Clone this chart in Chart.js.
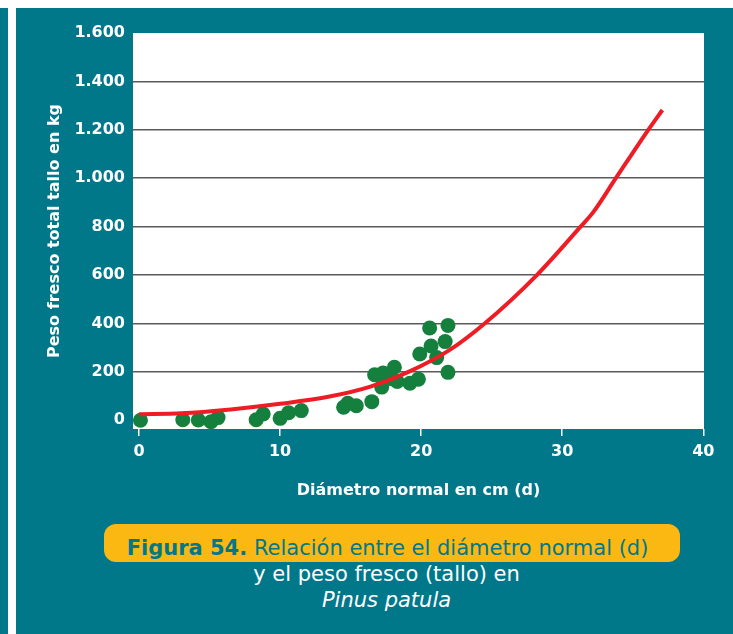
<!DOCTYPE html>
<html>
<head>
<meta charset="utf-8">
<script src="https://cdn.jsdelivr.net/npm/chart.js@4.4.1/dist/chart.umd.min.js"></script>
<style>
  html, body { margin: 0; padding: 0; background: #ffffff; }
  body { width: 733px; height: 634px; position: relative; overflow: hidden; font-family: "DejaVu Sans", sans-serif; }
  #stripe { position: absolute; left: 0; top: 8px; width: 8px; height: 626px; background: #00788a; }
  #panel { position: absolute; left: 16px; top: 8px; width: 717px; height: 626px; background: #00788a; }
  #wrap { position: absolute; left: 0; top: 0; width: 733px; height: 520px; }
  #cap { position: absolute; left: 104px; top: 524px; width: 576px; height: 38px; background: #fbb813; border-radius: 12px; }
  .l1 { position: absolute; left: 0; width: 775px; top: 535px; text-align: center; color: #00788a; font-size: 21px; line-height: 26px; }
  .l1 b { font-weight: bold; }
  .l2 { position: absolute; left: 0; width: 773px; text-align: center; color: #ffffff; font-size: 21px; line-height: 26px; }
</style>
</head>
<body>
<div id="stripe"></div>
<div id="panel"></div>
<div id="cap"></div>
<div class="l1"><b>Figura 54.</b> Relación entre el diámetro normal (d)</div>
<div class="l2" style="top:561px;">y el peso fresco (tallo) en</div>
<div class="l2" style="top:587px;font-style:italic;">Pinus patula</div>
<div id="wrap"><canvas id="c" width="733" height="520"></canvas></div>
<script>
// Observed data: diameter (cm) and fresh stem weight (kg)
const obsDiameter = [0.1, 3.1, 4.2, 5.1, 5.6, 8.3, 8.8, 10.0, 10.6, 11.5, 14.5, 14.8, 15.4, 16.5, 16.7, 17.2, 17.3, 17.9, 18.1, 18.3, 19.2, 19.8, 19.9, 20.6, 20.7, 21.1, 21.7, 21.9, 21.9];
const obsWeight   = [0,   2,   1,   -6,  11,  2,   26,  8,    31,   40,   54,   70,   60,   77,   188,  137,  195,  172,  219,  160,  153,  170,  274,  381,  307,  259,  325,  392,  198];
// Fitted curve
const fitDiameter = [0, 3, 6.5, 10, 13.5, 16.4, 19.1, 22, 24.5, 28.2, 31.3, 32.2, 33.8, 36.1, 37.1];
const fitWeight   = [25, 29, 45, 68, 98, 139, 200, 290, 400, 600, 800, 860, 1000, 1200, 1282];
// Axis ticks
const xTicks = [0, 10, 20, 30, 40];
const xTickLabels = ['0', '10', '20', '30', '40'];
const yTicks = [0, 200, 400, 600, 800, 1000, 1200, 1400, 1600];
const yTickLabels = ['0', '200', '400', '600', '800', '1.000', '1.200', '1.400', '1.600'];

const obsPoints = obsDiameter.map((d, i) => ({ x: d, y: obsWeight[i] }));
const fitPoints = fitDiameter.map((d, i) => ({ x: d, y: fitWeight[i] }));

const plotBg = {
  id: 'plotBg',
  beforeDraw(chart) {
    const { ctx, chartArea: a } = chart;
    ctx.save();
    ctx.fillStyle = '#ffffff';
    ctx.fillRect(a.left, a.top, a.right - a.left, a.bottom - a.top);
    ctx.restore();
  }
};

const tickFont = { family: '"DejaVu Sans", sans-serif', size: 16, weight: 'bold' };
const titleFont = { family: '"DejaVu Sans", sans-serif', size: 16, weight: 'bold' };

new Chart(document.getElementById('c'), {
  type: 'scatter',
  data: {
    datasets: [
      {
        label: 'Ajuste',
        data: fitPoints,
        showLine: true,
        borderColor: '#ee1c25',
        borderWidth: 4,
        pointRadius: 0,
        cubicInterpolationMode: 'monotone',
        fill: false,
        order: 0
      },
      {
        label: 'Observado',
        data: obsPoints,
        backgroundColor: '#15803e',
        borderWidth: 0,
        pointRadius: 7.5,
        pointHoverRadius: 7.5,
        order: 1
      }
    ]
  },
  options: {
    responsive: false,
    animation: false,
    events: [],
    layout: { padding: { left: 45, top: 33, right: 29, bottom: 0 } },
    plugins: { legend: { display: false }, tooltip: { enabled: false } },
    scales: {
      x: {
        type: 'linear',
        min: -0.43,
        max: 40.05,
        afterBuildTicks: s => { s.ticks = xTicks.map(v => ({ value: v })); },
        afterFit: s => { s.height = 91; s.paddingLeft = 0; s.paddingRight = 0; },
        border: { display: false },
        grid: { display: true, drawOnChartArea: false, drawTicks: true, tickLength: 7, color: '#ffffff', lineWidth: 1.5 },
        ticks: { color: '#ffffff', font: tickFont, padding: 6, maxRotation: 0,
          callback: (v) => { const i = xTicks.indexOf(v); return i >= 0 ? xTickLabels[i] : ''; } },
        title: { display: true, text: 'Diámetro normal en cm (d)', color: '#ffffff', font: titleFont, padding: { top: 0, bottom: 20 } }
      },
      y: {
        type: 'linear',
        min: -36,
        max: 1600,
        afterBuildTicks: s => { s.ticks = yTicks.map(v => ({ value: v })); },
        afterFit: s => { s.width = 88; s.paddingTop = 0; s.paddingBottom = 0; },
        border: { display: false },
        grid: { drawTicks: false, lineWidth: 1.5,
          color: (ctx) => (ctx.tick && (ctx.tick.value === 0 || ctx.tick.value === 1600)) ? 'rgba(0,0,0,0)' : '#5a5a5a' },
        ticks: { color: '#ffffff', font: tickFont, padding: 8,
          callback: (v) => { const i = yTicks.indexOf(v); return i >= 0 ? yTickLabels[i] : ''; } },
        title: { display: true, text: 'Peso fresco total tallo en kg', color: '#ffffff', font: titleFont, padding: { top: 0, bottom: 0 } }
      }
    }
  },
  plugins: [plotBg]
});
</script>
</body>
</html>
